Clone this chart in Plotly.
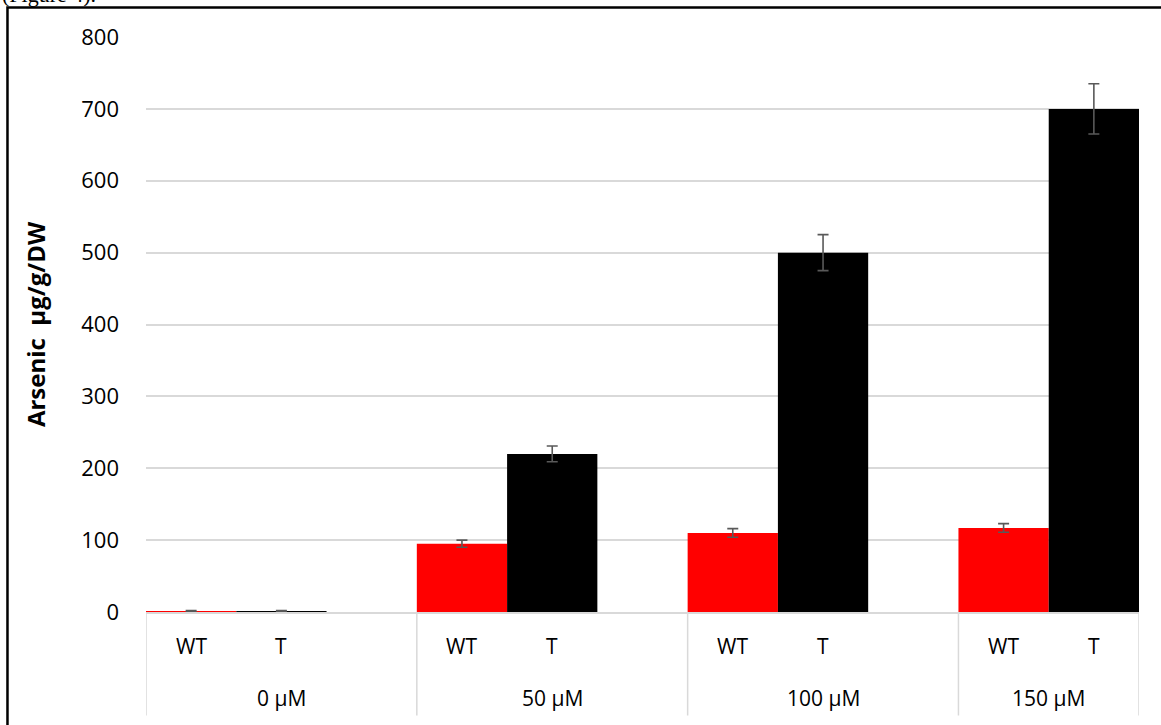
import plotly.graph_objects as go

# ---- data ----
groups = ["0 µM", "50 µM", "100 µM", "150 µM"]
genotypes = ["WT", "T"]
wt_values = [1, 95, 110, 117]
wt_err = [1, 5, 6, 6]
t_values = [1, 220, 500, 700]
t_err = [1, 11, 25, 35]
y_ticks = [0, 100, 200, 300, 400, 500, 600, 700, 800]
y_title = "Arsenic  µg/g/DW"
caption = "(Figure 4)."

# category slots: each group gets WT, T, and an empty spacer slot (not after last group)
slots_per_group = 3
wt_x = [g * slots_per_group for g in range(len(groups))]
t_x = [g * slots_per_group + 1 for g in range(len(groups))]
n_slots = slots_per_group * len(groups) - 1

FONT = "Open Sans"
err_style = dict(type="data", thickness=1.6, width=5.5, color="#595959")

fig = go.Figure()
fig.add_trace(go.Bar(x=wt_x, y=wt_values, width=1, marker=dict(color="#ff0000", line=dict(width=0)),
                     error_y=dict(array=wt_err, **err_style), name="WT"))
fig.add_trace(go.Bar(x=t_x, y=t_values, width=1, marker=dict(color="#000000", line=dict(width=0)),
                     error_y=dict(array=t_err, **err_style), name="T"))

annotations = []
shapes = []
row1_y = -0.059
row2_y = -0.150
sep_bottom = -0.18
for g, name in enumerate(groups):
    for k, gen in enumerate(genotypes):
        annotations.append(dict(x=g * slots_per_group + k, y=row1_y, xref="x", yref="paper", text=gen,
                                showarrow=False, font=dict(family=FONT, size=21, color="#000"),
                                xanchor="center", yanchor="middle"))
    start = g * slots_per_group - 0.5
    end = min(start + slots_per_group, n_slots - 0.5)
    annotations.append(dict(x=(start + end) / 2, y=row2_y, xref="x", yref="paper", text=name,
                            showarrow=False, font=dict(family=FONT, size=21, color="#000"),
                            xanchor="center", yanchor="middle"))
    shapes.append(dict(type="line", xref="x", yref="paper", x0=start, x1=start, y0=0, y1=sep_bottom,
                       line=dict(color="#d9d9d9", width=1.5)))
shapes.append(dict(type="line", xref="x", yref="paper", x0=n_slots - 0.5, x1=n_slots - 0.5, y0=0, y1=sep_bottom,
                   line=dict(color="#d9d9d9", width=1.5)))

# outer frame (cropped by the page)
shapes.append(dict(type="rect", xref="paper", yref="paper", x0=-0.1395, x1=1.1, y0=-0.3, y1=1.0515,
                   line=dict(color="#000", width=2.5), fillcolor="rgba(0,0,0,0)"))

# caption of the surrounding document, mostly cut off at the top edge
annotations.append(dict(x=-0.147, y=1.049, xref="paper", yref="paper", text=caption, showarrow=False,
                        font=dict(family="Liberation Serif", size=22, color="#000"),
                        xanchor="left", yanchor="bottom"))

fig.update_layout(
    width=1161, height=725,
    margin=dict(l=146, r=22, t=37, b=113),
    paper_bgcolor="white", plot_bgcolor="white",
    barmode="overlay", showlegend=False,
    font=dict(family=FONT, color="#000"),
    xaxis=dict(range=[-0.5, n_slots - 0.5], showticklabels=False, showgrid=False, zeroline=False,
               showline=True, linecolor="#d9d9d9", linewidth=1.5, ticks=""),
    yaxis=dict(range=[0, 800], tickvals=y_ticks, showgrid=True, gridcolor="#d9d9d9", gridwidth=1.5,
               zeroline=False, showline=False, ticks="", ticklabelstandoff=26,
               tickfont=dict(family=FONT, size=22, color="#000"),
               title=dict(text="<b>" + y_title + "</b>", font=dict(family=FONT, size=24, color="#000"),
                          standoff=28)),
    annotations=annotations, shapes=shapes,
)

fig.write_html("out.html", config={"displayModeBar": False},
               post_script="document.body.style.margin='0px';")
